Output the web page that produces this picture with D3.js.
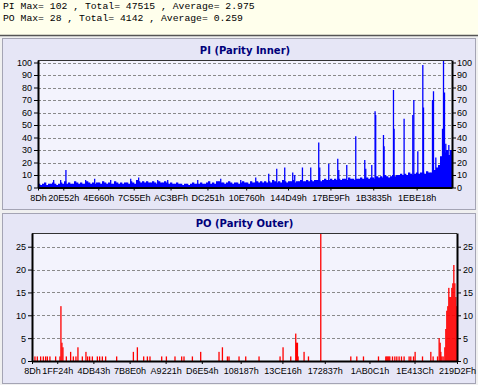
<!DOCTYPE html>
<html><head><meta charset="utf-8">
<script src="https://cdn.jsdelivr.net/npm/d3@7"></script>
<style>html,body{margin:0;padding:0;background:#f0f0f0;overflow:hidden}</style>
</head><body>
<svg id="c" width="478" height="385"></svg>
<script>
// ---------- data ----------
const headerLines = [
  "PI Max= 102 , Total= 47515 , Average= 2.975",
  "PO Max= 28 , Total= 4142 , Average= 0.259"
];
const piTitle = "PI (Parity Inner)";
const poTitle = "PO (Parity Outer)";
const lbaStart = "8D", lbaEnd = "219D2F";
const piTickHex = ["8D","20E52","4E660","7C55E","AC3BF","DC251","10E760","144D49","17BE9F","1B3835","1EBE18"];
const poTickHex = ["8D","1FF24","4DB43","7B8E0","A9221","D6E54","108187","13CE16","172837","1AB0C1","1E413C","219D2F"];
const piYTicks = [0,10,20,30,40,50,60,70,80,90,100];
const poYTicks = [0,5,10,15,20,25];
const piYMax = 102, poYMax = 28;

// PI background level, evenly spaced samples over the LBA range
const piBase = [
 3,2,3,4,2,3,3,4,3,2,
 3,4,3,5,3,4,3,3,5,4,
 3,4,3,3,5,4,3,4,3,4,
 4,3,5,4,3,4,3,3,5,4,
 3,4,3,4,4,3,5,4,3,6,
 5,4,5,4,5,4,4,5,4,3,
 5,4,4,5,4,3,4,3,3,4,
 3,3,2,3,3,2,3,4,3,3,
 3,4,3,3,4,5,3,4,3,5,
 5,4,4,3,4,5,4,3,4,4,
 3,4,5,4,4,3,5,4,4,5,
 4,5,4,5,4,5,4,6,5,4,
 5,4,6,5,4,5,5,6,4,5,
 5,6,5,5,6,5,6,5,6,6,
 6,5,6,7,6,6,7,6,7,6,
 7,6,7,7,6,8,7,7,6,7,
 7,8,7,7,8,7,8,8,7,9,
 8,9,8,10,9,8,9,10,9,10,
 10,11,10,11,10,12,11,10,11,12,
 11,12,12,11,13,12,12,13,14,16,
 18,25,30,28,30,26,30
];
// PI spikes: LBA and value
const piSpikeLBA = [80000,117200,145300,250300,298200,383400,489900,532300,633600,686800,846500,968900,
  1075400,1155200,1224300,1266900,1309500,1352000,1362600,1403700,1447900,1490400,1495700,1543700,
  1591600,1596900,1639500,1687400,1735300,1740600,1772600,1790200,1793500,1834900,1838100,1888100,
  1891300,1944600,1990900,1996300,2017600,2044200,2047900,2095700,2101000,2113400,2149000,2154300,
  2159600,2166500,2182600,2193200];
const piSpikeVal = [6,6,14,6,7,6,7,8,6,6,6,7,
  6,8,11,15,16,12,10,16,16,36,16,19,
  23,14,18,41,22,15,18,61,58,42,33,78,
  47,55,58,70,29,98,64,70,77,24,47,102,
  76,35,34,30];

// PO: LBA and value
const poLBA = [12000,24400,41500,55500,67400,76200,89700,119300,141600,146700,151900,157100,174700,197000,
  211000,224500,234900,257700,276400,285200,295600,309600,335500,347400,361400,378500,435600,522200,
  542900,575600,594800,608300,669000,693300,737900,772600,784600,828100,871100,966100,983700,1009600,
  1017900,1069800,1104500,1173500,1282500,1298000,1337900,1363800,1367500,1372600,1375800,1406900,
  1429700,1493500,1649100,1680200,1714800,1792600,1830500,1835700,1840900,1846100,1851300,1865200,
  1877300,1887700,1899500,1911800,1925400,1951400,1960100,1974100,1982500,2020800,2063900,2075800,
  2098700,2107000,2112200,2115800,2121000,2127700,2136500,2141700,2146800,2152000,2157200,2162400,
  2167600,2172800,2178000,2183200,2188400,2193500,2198700];
const poVal = [1,1,1,1,1,1,1,1,1,12,4,3,1,2,
  1,1,3,1,2,1,1,1,1,1,1,1,1,2,
  3,1,1,1,1,1,1,1,1,1,2,2,3,1,
  1,1,1,1,1,3,1,6,4,4,1,2,
  1,28,1,1,1,1,1,1,1,1,1,1,
  1,1,1,1,1,1,1,1,2,1,2,1,
  1,5,4,2,1,1,3,7,11,12,16,14,
  14,16,17,21,17,14,12];

// ---------- drawing ----------
const svg = d3.select("#c");
const hx = h => parseInt(h, 16);
const x0 = hx(lbaStart), x1 = hx(lbaEnd);

// header box
svg.append("rect").attr("x",0).attr("y",0).attr("width",478).attr("height",35).attr("fill","#ffffec");
svg.append("line").attr("x1",0).attr("x2",478).attr("y1",35.5).attr("y2",35.5).attr("stroke","#555").attr("stroke-width",1.5);
svg.selectAll("text.hdr").data(headerLines).join("text").attr("class","hdr")
  .attr("x",3).attr("y",(d,i)=>9+i*12)
  .attr("font-family","'Liberation Mono','DejaVu Sans Mono',monospace")
  .attr("font-size","9.75px").attr("fill","#000").attr("xml:space","preserve").text(d=>d);

function panel(cfg){
  const g = svg.append("g");
  g.append("rect").attr("x",cfg.px+0.5).attr("y",cfg.py+0.5).attr("width",cfg.pw).attr("height",cfg.ph)
    .attr("fill","#e6e6f6").attr("stroke","#a4a4b4");
  const x = d3.scaleLinear().domain([x0,x1]).range([cfg.l,cfg.r]);
  const y = d3.scaleLinear().domain([0,cfg.ymax]).range([cfg.b,cfg.t]);
  g.append("rect").attr("x",cfg.l).attr("y",cfg.t).attr("width",cfg.r-cfg.l).attr("height",cfg.b-cfg.t).attr("fill","#f3f3fd");
  g.append("text").attr("x",(cfg.l+cfg.r)/2).attr("y",cfg.titleY).attr("text-anchor","middle")
    .attr("font-family","'DejaVu Sans',Verdana,sans-serif").attr("font-weight","bold").attr("font-size","10px")
    .attr("fill","#00007a").text(cfg.title);
  // grid
  g.selectAll("line.grid").data(cfg.yticks.filter(v=>v>0)).join("line")
    .attr("x1",cfg.l).attr("x2",cfg.r).attr("y1",d=>Math.round(y(d))+0.5).attr("y2",d=>Math.round(y(d))+0.5)
    .attr("stroke","#8a8a8a").attr("stroke-dasharray","3,2");
  cfg.draw(g,x,y);
  // frame
  g.append("line").attr("x1",cfg.l).attr("x2",cfg.r).attr("y1",cfg.t+0.5).attr("y2",cfg.t+0.5).attr("stroke","#333");
  const axL = d3.axisLeft(y).tickValues(cfg.yticks).tickSize(4).tickPadding(2);
  const axR = d3.axisRight(y).tickValues(cfg.yticks).tickSize(4).tickPadding(cfg.rpad);
  const axB = d3.axisBottom(x).tickValues(cfg.xticks.map(hx)).tickFormat(d=>d.toString(16).toUpperCase()+"h").tickSize(3).tickPadding(4);
  const style = s => { s.select(".domain").attr("stroke","#000").attr("stroke-width",2);
    s.selectAll(".tick line").attr("stroke","#000");
    s.selectAll("text").attr("font-family","'Liberation Sans',Arial,sans-serif").attr("font-size","9px").attr("fill","#000"); };
  g.append("g").attr("transform",`translate(${cfg.l},0)`).call(axL.tickSizeOuter(0)).call(style);
  g.append("g").attr("transform",`translate(${cfg.r},0)`).call(axR.tickSizeOuter(0)).call(style);
  g.append("g").attr("transform",`translate(0,${cfg.b})`).call(axB.tickSizeOuter(0)).call(style);
  g.selectAll("g.tick text").attr("font-family","'Liberation Sans',Arial,sans-serif");
}

panel({px:2,py:38,pw:473,ph:171,l:38,r:452,t:60,b:187.5,ymax:piYMax,title:piTitle,titleY:54,
  yticks:piYTicks,xticks:piTickHex,rpad:1,
  draw:(g,x,y)=>{
    const n = piBase.length, step = (x1-x0)/n;
    g.selectAll("rect.pib").data(piBase).join("rect")
      .attr("x",(d,i)=>x(x0+i*step)).attr("width",x(x0+step)-x(x0)+0.3)
      .attr("y",d=>y(d)).attr("height",d=>y(0)-y(d)).attr("fill","#0000ff");
    g.selectAll("rect.pis").data(piSpikeLBA).join("rect")
      .attr("x",d=>x(d)).attr("width",1.3)
      .attr("y",(d,i)=>y(piSpikeVal[i])).attr("height",(d,i)=>y(0)-y(piSpikeVal[i])).attr("fill","#0000ff");
  }});

panel({px:2,py:213,pw:473,ph:170,l:32,r:457,t:233,b:361,ymax:poYMax,title:poTitle,titleY:227,
  yticks:poYTicks,xticks:poTickHex,rpad:2,
  draw:(g,x,y)=>{
    g.selectAll("rect.po").data(poLBA).join("rect")
      .attr("x",d=>x(d)).attr("width",1.3)
      .attr("y",(d,i)=>y(poVal[i])).attr("height",(d,i)=>y(0)-y(poVal[i])).attr("fill","#ff0000");
  }});
</script>
</body></html>
